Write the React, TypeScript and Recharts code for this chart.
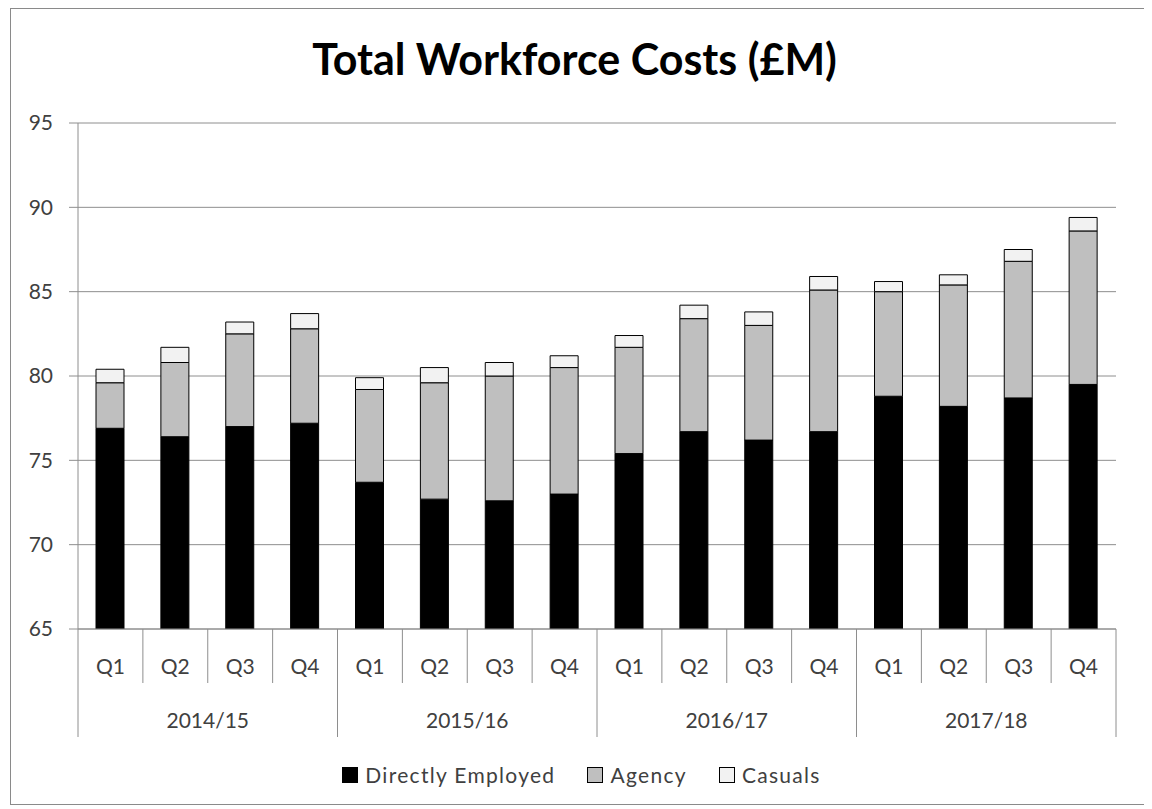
import { BarChart, Bar, XAxis, YAxis, CartesianGrid } from "recharts";

const quarters = ["Q1", "Q2", "Q3", "Q4", "Q1", "Q2", "Q3", "Q4", "Q1", "Q2", "Q3", "Q4", "Q1", "Q2", "Q3", "Q4"];
const years = ["2014/15", "2015/16", "2016/17", "2017/18"];
const directlyEmployed = [76.9, 76.4, 77.0, 77.2, 73.7, 72.7, 72.6, 73.0, 75.4, 76.7, 76.2, 76.7, 78.8, 78.2, 78.7, 79.5];
const agency = [2.7, 4.4, 5.5, 5.6, 5.5, 6.9, 7.4, 7.5, 6.3, 6.7, 6.8, 8.4, 6.2, 7.2, 8.1, 9.1];
const casuals = [0.8, 0.9, 0.7, 0.9, 0.7, 0.9, 0.8, 0.7, 0.7, 0.8, 0.8, 0.8, 0.6, 0.6, 0.7, 0.8];
const yTicks = [65, 70, 75, 80, 85, 90, 95];

const data = quarters.map((q, i) => ({
  id: years[Math.floor(i / 4)] + " " + q,
  q,
  year: years[Math.floor(i / 4)],
  direct: directlyEmployed[i],
  agency: agency[i],
  casuals: casuals[i],
}));

const FONT = "Lato, 'Open Sans', sans-serif";
const GRID = "#8e8e8e";
const TEXT = "#404040";
const CHART_W = 1134;
const CHART_H = 795;
const MARGIN = { top: 114, right: 29, left: 7, bottom: 45 };
const HALF_BAND = (CHART_W - MARGIN.left - MARGIN.right - 60) / quarters.length / 2;

function QuarterTick(props: any) {
  const { x, y, payload } = props;
  const i = payload.index ?? props.index;
  const half = payload.offset || HALF_BAND;
  const row = data[i];
  const groupStart = i % 4 === 0;
  return (
    <g>
      <line x1={x - half} x2={x - half} y1={y} y2={y + (groupStart ? 108 : 54)} stroke={GRID} strokeWidth={1} />
      {i === data.length - 1 && (
        <line x1={x + half} x2={x + half} y1={y} y2={y + 108} stroke={GRID} strokeWidth={1} />
      )}
      <text x={x} y={y + 36} textAnchor="middle" dominantBaseline="central" fontSize={21} fontFamily={FONT} fill={TEXT}>
        {row.q}
      </text>
      {i % 4 === 1 && (
        <text x={x + half} y={y + 90} textAnchor="middle" dominantBaseline="central" fontSize={21} fontFamily={FONT} fill={TEXT}>
          {row.year}
        </text>
      )}
    </g>
  );
}

const legendItems = [
  { label: "Directly Employed", fill: "#000000" },
  { label: "Agency", fill: "#bfbfbf" },
  { label: "Casuals", fill: "#f2f2f2" },
];

export default function App() {
  return (
    <div
      style={{
        position: "relative",
        width: 1134,
        height: 795,
        marginLeft: 2,
        border: "1px solid #8a8a8a",
        background: "#fff",
        fontFamily: FONT,
      }}
    >
      <div
        style={{
          position: "absolute",
          left: 0,
          width: 1127,
          top: 28,
          textAlign: "center",
          fontSize: 43,
          lineHeight: 1,
          fontWeight: 700,
          color: "#000",
        }}
      >
        Total Workforce Costs (£M)
      </div>
      <div style={{ position: "absolute", left: 0, top: 0 }}>
        <BarChart width={CHART_W} height={CHART_H} data={data} margin={MARGIN} barSize={28}>
          <CartesianGrid vertical={false} stroke={GRID} strokeWidth={1} />
          <XAxis
            dataKey="id"
            interval={0}
            height={130}
            tickSize={0}
            tickMargin={0}
            tickLine={false}
            axisLine={{ stroke: GRID, strokeWidth: 1 }}
            tick={(p: any) => <QuarterTick {...p} />}
          />
          <YAxis
            width={60}
            domain={[65, 95]}
            ticks={yTicks}
            allowDataOverflow
            interval={0}
            tickSize={9}
            tickMargin={16}
            tickLine={{ stroke: GRID }}
            axisLine={{ stroke: GRID, strokeWidth: 1 }}
            tick={{ fontSize: 21, fontFamily: FONT, fill: TEXT }}
          />
          <Bar dataKey="direct" stackId="a" fill="#000000" stroke="#000" strokeWidth={1} isAnimationActive={false} />
          <Bar dataKey="agency" stackId="a" fill="#bfbfbf" stroke="#000" strokeWidth={1} isAnimationActive={false} />
          <Bar dataKey="casuals" stackId="a" fill="#f2f2f2" stroke="#000" strokeWidth={1} isAnimationActive={false} />
        </BarChart>
      </div>
      <div
        style={{
          position: "absolute",
          left: 0,
          width: 1141,
          top: 755,
          display: "flex",
          justifyContent: "center",
          alignItems: "center",
          gap: 32,
          fontSize: 21,
          lineHeight: 1,
          letterSpacing: 1.3,
          color: TEXT,
        }}
      >
        {legendItems.map((it) => (
          <div key={it.label} style={{ display: "flex", alignItems: "center", gap: 7 }}>
            <span
              style={{
                display: "inline-block",
                width: 14,
                height: 14,
                background: it.fill,
                border: "1px solid #000",
              }}
            />
            <span>{it.label}</span>
          </div>
        ))}
      </div>
    </div>
  );
}
